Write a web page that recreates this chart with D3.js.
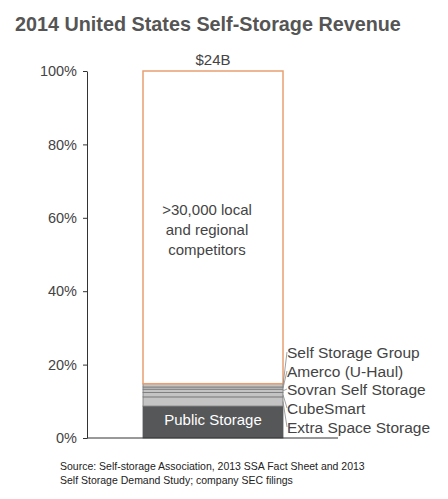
<html>
<head>
<script src="https://d3js.org/d3.v7.min.js"></script>
<style>
  body { margin: 0; background: white; }
  text { font-family: "Liberation Sans", Arial, sans-serif; fill: #444; }
</style>
</head>
<body>
<script>
var segments = ["Public Storage", "Extra Space Storage", "CubeSmart", "Sovran Self Storage", "Amerco (U-Haul)", "Self Storage Group", "Others"];
var shares = [8.7, 2.5, 1.2, 0.9, 0.6, 0.9, 85.2];
var yTicks = [0, 20, 40, 60, 80, 100];
var totalLabel = "$24B";
var othersLabel = [">30,000 local", "and regional", "competitors"];

var width = 448, height = 499;
var svg = d3.select("body").append("svg").attr("width", width).attr("height", height);

svg.append("text").attr("x", 15).attr("y", 31)
  .attr("font-size", "19.8px").attr("font-weight", "bold").style("fill", "#555")
  .text("2014 United States Self-Storage Revenue");

var y = d3.scaleLinear().domain([0, 100]).range([438, 71]);
var x0 = 143, x1 = 283;

// y axis
var yAxis = d3.axisLeft(y).tickValues(yTicks).tickFormat(d => d + "%").tickSize(4).tickSizeOuter(0);
var ag = svg.append("g").attr("transform", "translate(87,0)").call(yAxis);
ag.select(".domain").attr("stroke", "#333");
ag.selectAll(".tick line").attr("stroke", "#333");
ag.selectAll(".tick text").attr("font-size", "14.5px").attr("x", -10).style("fill", "#444")
  .attr("font-family", "Liberation Sans, Arial, sans-serif");

// stacked segments
var cum = 0;
var stack = shares.map(function (s, i) { var d = { name: segments[i], y0: cum, y1: cum + s, i: i }; cum += s; return d; });

svg.selectAll("rect.seg").data(stack).enter().append("rect")
  .attr("x", x0).attr("width", x1 - x0)
  .attr("y", d => y(d.y1)).attr("height", d => y(d.y0) - y(d.y1))
  .attr("fill", d => d.i === 0 ? "#555759" : d.i === 6 ? "white" : "#c4c4c4")
  .attr("stroke", d => d.i === 0 ? "#555759" : d.i === 6 ? "#e8a070" : "#777")
  .attr("stroke-width", d => d.i === 6 ? 1.5 : 0.8);

// baseline
svg.append("line").attr("x1", 87).attr("x2", 338).attr("y1", y(0)).attr("y2", y(0)).attr("stroke", "#333");

svg.append("text").attr("x", (x0 + x1) / 2).attr("y", 425).attr("text-anchor", "middle")
  .attr("font-size", "15px").style("fill", "white").text(segments[0]);

svg.append("text").attr("x", (x0 + x1) / 2).attr("y", y(100) - 6).attr("text-anchor", "middle")
  .attr("font-size", "15px").text(totalLabel);

othersLabel.forEach(function (t, k) {
  svg.append("text").attr("x", (x0 + x1) / 2 - 6).attr("y", 215 + k * 20).attr("text-anchor", "middle")
    .attr("font-size", "15px").text(t);
});

// side labels with leader lines
var labelY = [433, 414, 395, 377, 358];
for (var i = 1; i <= 5; i++) {
  var d = stack[i];
  var ly = labelY[i - 1];
  var my = (y(d.y0) + y(d.y1)) / 2;
  svg.append("line").attr("x1", x1).attr("y1", my).attr("x2", 287).attr("y2", ly - 6)
    .attr("stroke", "#888").attr("stroke-width", 0.8);
  svg.append("text").attr("x", 287).attr("y", ly).attr("font-size", "15.5px").text(d.name);
}

svg.append("text").attr("x", 60).attr("y", 470).attr("font-size", "10.5px").style("fill", "#222")
  .text("Source: Self-storage Association, 2013 SSA Fact Sheet and 2013");
svg.append("text").attr("x", 60).attr("y", 484).attr("font-size", "10.5px").style("fill", "#222")
  .text("Self Storage Demand Study; company SEC filings");
</script>
</body>
</html>
